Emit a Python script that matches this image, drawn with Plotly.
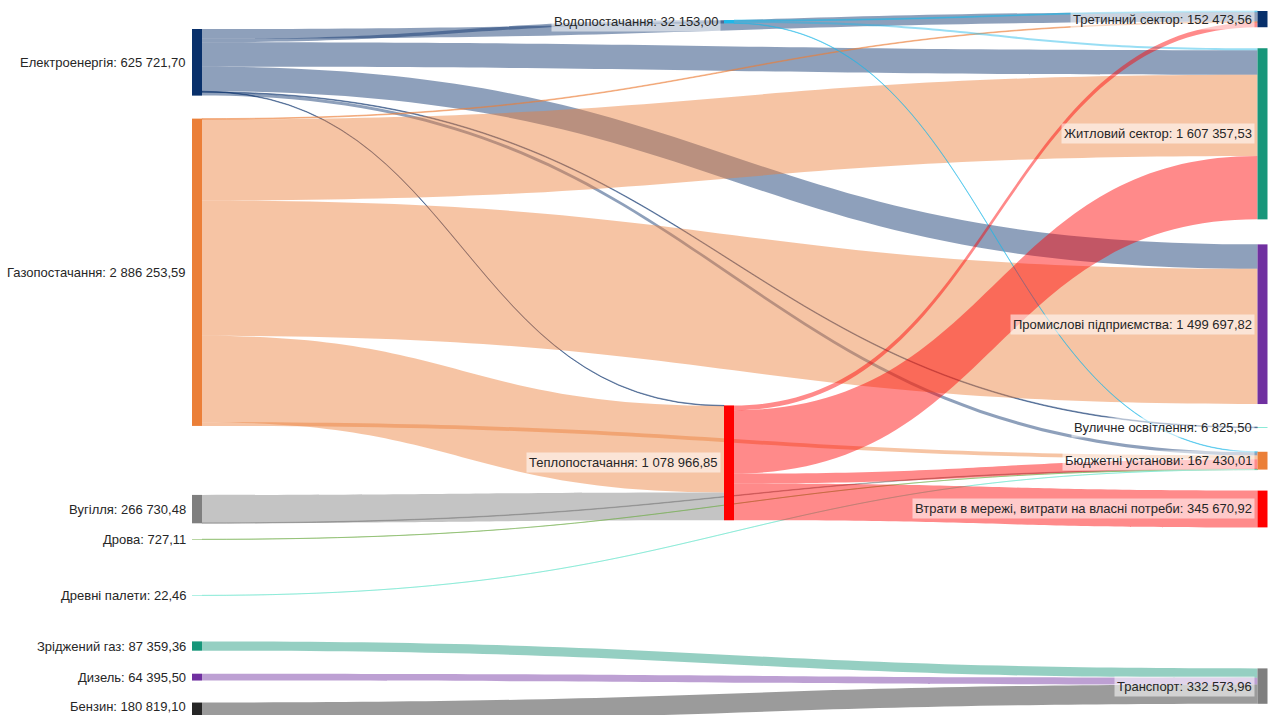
import plotly.graph_objects as go

# ---------------- data ----------------
node_names = [
    "Електроенергія", "Газопостачання", "Вугілля", "Дрова", "Древні палети",
    "Зріджений газ", "Дизель", "Бензин",
    "Водопостачання", "Теплопостачання",
    "Третинний сектор", "Житловий сектор", "Промислові підприємства",
    "Вуличне освітлення", "Бюджетні установи",
    "Втрати в мережі, витрати на власні потреби", "Транспорт",
]

link_source = [
    "Електроенергія", "Електроенергія", "Електроенергія", "Електроенергія",
    "Електроенергія", "Електроенергія", "Електроенергія",
    "Газопостачання", "Газопостачання", "Газопостачання", "Газопостачання", "Газопостачання",
    "Вугілля", "Вугілля", "Дрова", "Древні палети",
    "Зріджений газ", "Дизель", "Бензин",
    "Водопостачання", "Водопостачання", "Водопостачання",
    "Теплопостачання", "Теплопостачання", "Теплопостачання", "Теплопостачання",
]
link_target = [
    "Третинний сектор", "Водопостачання", "Житловий сектор", "Промислові підприємства",
    "Теплопостачання", "Вуличне освітлення", "Бюджетні установи",
    "Третинний сектор", "Житловий сектор", "Промислові підприємства", "Теплопостачання", "Бюджетні установи",
    "Теплопостачання", "Бюджетні установи", "Бюджетні установи", "Бюджетні установи",
    "Транспорт", "Транспорт", "Транспорт",
    "Третинний сектор", "Житловий сектор", "Бюджетні установи",
    "Третинний сектор", "Житловий сектор", "Бюджетні установи",
    "Втрати в мережі, витрати на власні потреби",
]
link_value = [
    91973.56, 32153.00, 230000.00, 229769.64,
    5000.00, 6825.50, 30000.00,
    7000.00, 762589.04, 1269928.18, 811736.37, 35000.00,
    262230.48, 4500.00, 727.11, 22.46,
    87359.36, 64395.50, 180819.10,
    8500.00, 19500.00, 4153.00,
    45000.00, 595268.49, 93027.44,
    345670.92,
]

# ---------------- styles / layout ----------------
W, H = 1268, 715
NODE_PAD = 39.6
NODE_THICK = 10

node_colors = {
    "Електроенергія": "#08306B", "Газопостачання": "#EB7F38", "Вугілля": "#7F7F7F",
    "Дрова": "#70AD47", "Древні палети": "#5FE3C8", "Зріджений газ": "#17967A",
    "Дизель": "#7030A0", "Бензин": "#262626", "Водопостачання": "#1FB7E8",
    "Теплопостачання": "#FF0000", "Третинний сектор": "#08306B",
    "Житловий сектор": "#17967A", "Промислові підприємства": "#7030A0",
    "Вуличне освітлення": "#5FE3C8", "Бюджетні установи": "#EB7F38",
    "Втрати в мережі, витрати на власні потреби": "#FF0000", "Транспорт": "#7F7F7F",
}
link_alpha = 0.46

# columns and vertical spacing (px gaps before each node)
columns = [
    ["Електроенергія", "Газопостачання", "Вугілля", "Дрова", "Древні палети",
     "Зріджений газ", "Дизель", "Бензин"],
    ["Водопостачання", "Теплопостачання"],
    ["Третинний сектор", "Житловий сектор", "Промислові підприємства",
     "Вуличне освітлення", "Бюджетні установи",
     "Втрати в мережі, витрати на власні потреби", "Транспорт"],
]
column_gaps = [
    [29, 23, 69, 16, 56, 46, 23, 22],
    [20, 382],
    [11, 21, 25, 23, 24, 21, 141],
]
column_center_x = [197, 729, 1262.5]

# ---------------- derived ----------------
idx = {n: i for i, n in enumerate(node_names)}
src = [idx[s] for s in link_source]
tgt = [idx[t] for t in link_target]

inflow = [0.0] * len(node_names)
outflow = [0.0] * len(node_names)
for s, t, v in zip(src, tgt, link_value):
    outflow[s] += v
    inflow[t] += v
node_value = [max(a, b) for a, b in zip(inflow, outflow)]

ky = min((H - (len(col) - 1) * NODE_PAD) / sum(node_value[idx[n]] for n in col)
         for col in columns)

node_x = [0.0] * len(node_names)
node_y = [0.0] * len(node_names)
centers_px = [0.0] * len(node_names)
for ci, col in enumerate(columns):
    y = 0.0
    for n, g in zip(col, column_gaps[ci]):
        h = node_value[idx[n]] * ky
        top = y + g
        c = top + h / 2
        centers_px[idx[n]] = c
        node_x[idx[n]] = column_center_x[ci] / W
        node_y[idx[n]] = c / H
        y = top + h


def hex_rgba(hx, a):
    hx = hx.lstrip("#")
    r, g, b = int(hx[0:2], 16), int(hx[2:4], 16), int(hx[4:6], 16)
    return f"rgba({r},{g},{b},{a})"


def fmt(v):
    return f"{v:,.2f}".replace(",", " ").replace(".", ",")


link_colors = [hex_rgba(node_colors[node_names[s]], link_alpha) for s in src]

fig = go.Figure(go.Sankey(
    arrangement="fixed",
    domain=dict(x=[0, 1], y=[0, 1]),
    node=dict(
        label=[""] * len(node_names),
        customdata=[f"{n}: {fmt(v)}" for n, v in zip(node_names, node_value)],
        hovertemplate="%{customdata}<extra></extra>",
        color=[node_colors[n] for n in node_names],
        pad=NODE_PAD,
        thickness=NODE_THICK,
        line=dict(width=0),
        x=node_x,
        y=node_y,
    ),
    link=dict(source=src, target=tgt, value=link_value, color=link_colors),
))

annotations = []
for i, n in enumerate(node_names):
    ci = next(k for k, col in enumerate(columns) if n in col)
    x_px = column_center_x[ci] - NODE_THICK / 2 - 3
    y_px = min(centers_px[i], H - 9)
    annotations.append(dict(
        x=x_px / W, y=1 - y_px / H, xref="paper", yref="paper",
        xanchor="right", yanchor="middle", showarrow=False,
        text=f"{n}: {fmt(node_value[i])}",
        font=dict(family="Arial, 'Liberation Sans', sans-serif", size=13, color="#262626"),
        bgcolor="rgba(255,255,255,0.55)", borderpad=2,
    ))

fig.update_layout(
    width=W, height=H,
    margin=dict(l=0, r=0, t=0, b=0),
    paper_bgcolor="white", plot_bgcolor="white",
    annotations=annotations,
)

fig.write_html(
    "out.html",
    config={"displayModeBar": False},
    post_script="document.body.style.margin='0';document.documentElement.style.overflow='hidden';",
)
